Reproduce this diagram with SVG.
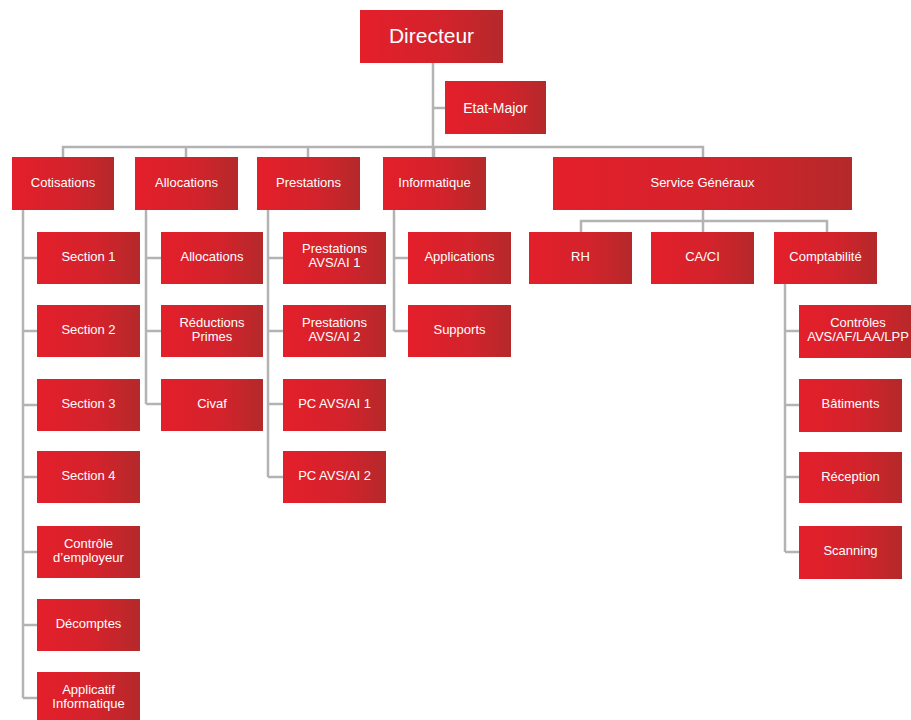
<svg xmlns="http://www.w3.org/2000/svg" width="911" height="720" viewBox="0 0 911 720">
<defs>
<linearGradient id="g" x1="0" y1="0" x2="1" y2="0">
<stop offset="0" stop-color="#e41f2a"/>
<stop offset="0.6" stop-color="#d2232c"/>
<stop offset="1" stop-color="#b4292a"/>
</linearGradient>
<style>
rect.b{fill:url(#g)}
text{fill:#fff;font-family:"Liberation Sans",Arial,sans-serif;font-size:13px;text-anchor:middle}
text.big{font-size:21px}
text.mid{font-size:14px}
.c{stroke:#b3b3b3;stroke-width:2.5;fill:none}
</style>
</defs>
<rect width="911" height="720" fill="#fff"/>
<g id="connectors" class="c">
<path d="M433 63V157M433 108H445"/>
<path d="M63 157V147H703V157M186 147V157M308 147V157M434 147V157"/>
<path d="M23 210V698M23 258H37M23 331H37M23 405H37M23 477H37M23 552H37M23 625H37M23 698H37"/>
<path d="M146 210V404M146 258H161M146 331H161M146 404H161"/>
<path d="M268 210V477M268 258H283M268 331H283M268 404H283M268 477H283"/>
<path d="M394 210V331M394 258H408M394 331H408"/>
<path d="M703 210V221M581 232V221H827V232M703 221V232"/>
<path d="M785 284V552M785 331H799M785 405H799M785 477H799M785 552H799"/>
</g>
<g id="directeur"><rect class="b" x="360" y="10" width="143" height="53"/><text class="big" x="431.5" y="43">Directeur</text></g>
<g id="etat-major"><rect class="b" x="445" y="81" width="101" height="53"/><text class="mid" x="495.5" y="113">Etat-Major</text></g>
<g id="cotisations"><rect class="b" x="12" y="157" width="102" height="53"/><text x="63" y="187">Cotisations</text></g>
<g id="allocations"><rect class="b" x="135" y="157" width="103" height="53"/><text x="186.5" y="187">Allocations</text></g>
<g id="prestations"><rect class="b" x="257" y="157" width="103" height="53"/><text x="308.5" y="187">Prestations</text></g>
<g id="informatique"><rect class="b" x="383" y="157" width="103" height="53"/><text x="434.5" y="187">Informatique</text></g>
<g id="service-generaux"><rect class="b" x="553" y="157" width="299" height="53"/><text x="702.5" y="187">Service Généraux</text></g>

<g id="section1"><rect class="b" x="37" y="232" width="103" height="52"/><text x="88.5" y="261">Section 1</text></g>
<g id="section2"><rect class="b" x="37" y="305" width="103" height="52"/><text x="88.5" y="334">Section 2</text></g>
<g id="section3"><rect class="b" x="37" y="379" width="103" height="52"/><text x="88.5" y="408">Section 3</text></g>
<g id="section4"><rect class="b" x="37" y="451" width="103" height="52"/><text x="88.5" y="480">Section 4</text></g>
<g id="controle-employeur"><rect class="b" x="37" y="526" width="103" height="52"/><text x="88.5" y="548">Contrôle</text><text x="88.5" y="562">d’employeur</text></g>
<g id="decomptes"><rect class="b" x="37" y="599" width="103" height="52"/><text x="88.5" y="628">Décomptes</text></g>
<g id="applicatif"><rect class="b" x="37" y="672" width="103" height="52"/><text x="88.5" y="694">Applicatif</text><text x="88.5" y="708">Informatique</text></g>

<g id="allocations-sub"><rect class="b" x="161" y="232" width="102" height="52"/><text x="212" y="261">Allocations</text></g>
<g id="reductions-primes"><rect class="b" x="161" y="305" width="102" height="52"/><text x="212" y="327">Réductions</text><text x="212" y="341">Primes</text></g>
<g id="civaf"><rect class="b" x="161" y="379" width="102" height="52"/><text x="212" y="408">Civaf</text></g>

<g id="prestations-avs-ai-1"><rect class="b" x="283" y="232" width="103" height="52"/><text x="334.5" y="253">Prestations</text><text x="334.5" y="267">AVS/AI 1</text></g>
<g id="prestations-avs-ai-2"><rect class="b" x="283" y="305" width="103" height="52"/><text x="334.5" y="327">Prestations</text><text x="334.5" y="341">AVS/AI 2</text></g>
<g id="pc-avs-ai-1"><rect class="b" x="283" y="379" width="103" height="52"/><text x="334.5" y="408">PC AVS/AI 1</text></g>
<g id="pc-avs-ai-2"><rect class="b" x="283" y="451" width="103" height="52"/><text x="334.5" y="480">PC AVS/AI 2</text></g>

<g id="applications"><rect class="b" x="408" y="232" width="103" height="52"/><text x="459.5" y="261">Applications</text></g>
<g id="supports"><rect class="b" x="408" y="305" width="103" height="52"/><text x="459.5" y="334">Supports</text></g>

<g id="rh"><rect class="b" x="529" y="232" width="103" height="52"/><text x="580.5" y="261">RH</text></g>
<g id="ca-ci"><rect class="b" x="651" y="232" width="103" height="52"/><text x="702.5" y="261">CA/CI</text></g>
<g id="comptabilite"><rect class="b" x="774" y="232" width="103" height="52"/><text x="825.5" y="261">Comptabilité</text></g>

<g id="controles"><rect class="b" x="799" y="305" width="118" height="53"/><text x="858" y="327">Contrôles</text><text x="858" y="341">AVS/AF/LAA/LPP</text></g>
<g id="batiments"><rect class="b" x="799" y="379" width="103" height="53"/><text x="850.5" y="408">Bâtiments</text></g>
<g id="reception"><rect class="b" x="799" y="452" width="103" height="51"/><text x="850.5" y="481">Réception</text></g>
<g id="scanning"><rect class="b" x="799" y="526" width="103" height="53"/><text x="850.5" y="555">Scanning</text></g>
</svg>
